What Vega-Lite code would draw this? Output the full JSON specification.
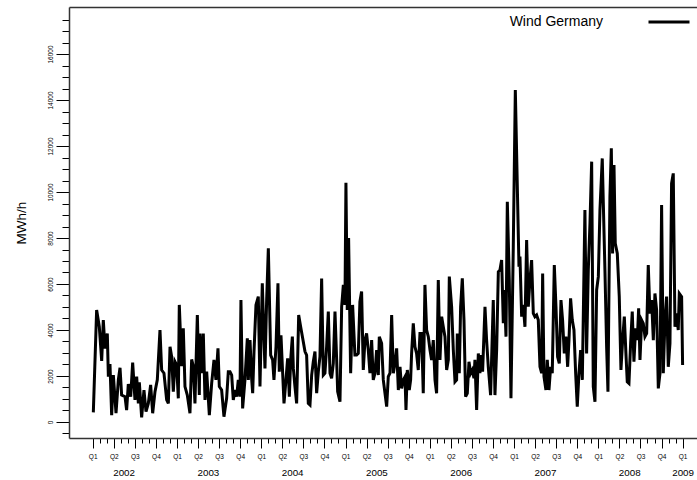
{
  "$schema": "https://vega.github.io/schema/vega-lite/v6.json",
  "width": 628,
  "height": 431,
  "autosize": {"type": "none"},
  "padding": {"left": 69, "top": 7, "right": 0, "bottom": 42},
  "background": "white",
  "config": {
    "view": {"stroke": null},
    "font": "Liberation Sans",
    "axis": {"labelFont": "Liberation Sans", "titleFont": "Liberation Sans", "grid": false},
    "legend": {"labelFont": "Liberation Sans"}
  },
  "data": {"values": [
    {"m":0.09,"v":420},{"m":0.56,"v":4870},{"m":0.94,"v":4140},{"m":1.28,"v":2660},{"m":1.51,"v":4430},{"m":1.75,"v":3200},{"m":2.08,"v":3850},{"m":2.23,"v":1970},{"m":2.46,"v":2520},{"m":2.70,"v":300},{"m":2.94,"v":2040},{"m":3.32,"v":380},{"m":3.65,"v":1830},{"m":3.89,"v":2360},{"m":4.12,"v":1170},{"m":4.60,"v":1100},{"m":4.83,"v":520},{"m":5.07,"v":1650},{"m":5.41,"v":1100},{"m":5.69,"v":2580},{"m":6.02,"v":960},{"m":6.26,"v":1970},{"m":6.50,"v":810},{"m":6.64,"v":1720},{"m":6.97,"v":200},{"m":7.30,"v":1390},{"m":7.59,"v":450},{"m":7.92,"v":810},{"m":8.25,"v":1610},{"m":8.54,"v":380},{"m":8.87,"v":1320},{"m":9.20,"v":1830},{"m":9.58,"v":4000},{"m":9.82,"v":2260},{"m":10.15,"v":2120},{"m":10.53,"v":960},{"m":10.77,"v":810},{"m":11.01,"v":3270},{"m":11.24,"v":2840},{"m":11.48,"v":1320},{"m":11.72,"v":2620},{"m":11.95,"v":2480},{"m":12.19,"v":1030},{"m":12.33,"v":5090},{"m":12.67,"v":2430},{"m":12.90,"v":4070},{"m":13.14,"v":1540},{"m":13.47,"v":1170},{"m":13.85,"v":380},{"m":14.09,"v":2720},{"m":14.33,"v":2410},{"m":14.56,"v":810},{"m":14.90,"v":4650},{"m":15.18,"v":1170},{"m":15.28,"v":3850},{"m":15.51,"v":2120},{"m":15.75,"v":3850},{"m":15.99,"v":960},{"m":16.23,"v":2190},{"m":16.61,"v":300},{"m":16.94,"v":1680},{"m":17.27,"v":2700},{"m":17.55,"v":1830},{"m":17.84,"v":3200},{"m":18.03,"v":1540},{"m":18.36,"v":1390},{"m":18.69,"v":230},{"m":19.07,"v":1030},{"m":19.31,"v":2190},{"m":19.55,"v":2190},{"m":19.79,"v":2040},{"m":20.02,"v":960},{"m":20.26,"v":1390},{"m":20.50,"v":1100},{"m":20.73,"v":1830},{"m":20.97,"v":1100},{"m":21.11,"v":5300},{"m":21.35,"v":590},{"m":21.68,"v":1830},{"m":22.02,"v":3640},{"m":22.16,"v":1830},{"m":22.40,"v":3560},{"m":22.63,"v":1900},{"m":22.78,"v":1250},{"m":22.97,"v":3060},{"m":23.25,"v":5090},{"m":23.58,"v":5450},{"m":23.82,"v":1540},{"m":24.15,"v":6030},{"m":24.53,"v":2330},{"m":24.77,"v":5300},{"m":25.01,"v":7550},{"m":25.34,"v":2910},{"m":25.62,"v":2700},{"m":25.81,"v":1830},{"m":26.10,"v":3270},{"m":26.38,"v":6030},{"m":26.57,"v":2190},{"m":26.81,"v":3770},{"m":27.05,"v":2120},{"m":27.24,"v":810},{"m":27.52,"v":1830},{"m":27.76,"v":2770},{"m":28.00,"v":1100},{"m":28.19,"v":2700},{"m":28.43,"v":3710},{"m":28.57,"v":2330},{"m":28.80,"v":1540},{"m":29.04,"v":810},{"m":29.33,"v":4650},{"m":29.61,"v":4140},{"m":29.90,"v":3640},{"m":30.23,"v":3060},{"m":30.46,"v":2910},{"m":30.70,"v":810},{"m":30.94,"v":740},{"m":31.18,"v":2040},{"m":31.41,"v":2620},{"m":31.65,"v":3060},{"m":31.89,"v":1250},{"m":32.13,"v":2190},{"m":32.36,"v":2840},{"m":32.60,"v":6240},{"m":32.84,"v":2040},{"m":33.07,"v":2120},{"m":33.31,"v":3270},{"m":33.55,"v":4800},{"m":33.79,"v":2120},{"m":34.02,"v":1900},{"m":34.26,"v":2550},{"m":34.50,"v":4800},{"m":34.74,"v":2700},{"m":34.88,"v":1320},{"m":35.21,"v":880},{"m":35.45,"v":5010},{"m":35.69,"v":5960},{"m":35.92,"v":5090},{"m":36.06,"v":10400},{"m":36.25,"v":4870},{"m":36.44,"v":8000},{"m":36.73,"v":2120},{"m":37.01,"v":5090},{"m":37.34,"v":2910},{"m":37.58,"v":2910},{"m":37.82,"v":2980},{"m":38.05,"v":5230},{"m":38.29,"v":5670},{"m":38.53,"v":2260},{"m":38.77,"v":3560},{"m":39.00,"v":3850},{"m":39.24,"v":3130},{"m":39.48,"v":2120},{"m":39.72,"v":3560},{"m":39.95,"v":1830},{"m":40.19,"v":2120},{"m":40.43,"v":3130},{"m":40.67,"v":2040},
    {"m":40.81,"v":3710},{"m":41.14,"v":3420},{"m":41.38,"v":1830},{"m":41.62,"v":1250},{"m":41.86,"v":670},{"m":42.09,"v":1970},{"m":42.33,"v":2120},{"m":42.57,"v":4650},{"m":42.81,"v":2120},{"m":43.04,"v":2550},{"m":43.28,"v":3200},{"m":43.52,"v":1390},{"m":43.76,"v":2400},{"m":43.99,"v":1460},{"m":44.23,"v":1830},{"m":44.47,"v":1970},{"m":44.61,"v":520},{"m":44.80,"v":2260},{"m":45.08,"v":1390},{"m":45.27,"v":1830},{"m":45.41,"v":2980},{"m":45.65,"v":4290},{"m":45.89,"v":3270},{"m":46.12,"v":2980},{"m":46.36,"v":2260},{"m":46.60,"v":3850},{"m":46.84,"v":3850},{"m":47.07,"v":1250},{"m":47.31,"v":5960},{"m":47.55,"v":4000},{"m":47.79,"v":3710},{"m":48.03,"v":3130},{"m":48.26,"v":2700},{"m":48.50,"v":3560},{"m":48.74,"v":1830},{"m":48.97,"v":1250},{"m":49.21,"v":6170},{"m":49.45,"v":2700},{"m":49.69,"v":4580},{"m":49.92,"v":4140},{"m":50.16,"v":3710},{"m":50.40,"v":2260},{"m":50.64,"v":2700},{"m":50.78,"v":6320},{"m":51.11,"v":5010},{"m":51.35,"v":3130},{"m":51.59,"v":1750},{"m":51.82,"v":1830},{"m":51.92,"v":3850},{"m":52.20,"v":2120},{"m":52.39,"v":5010},{"m":52.63,"v":6250},{"m":52.87,"v":4430},{"m":53.10,"v":1100},{"m":53.34,"v":1250},{"m":53.58,"v":2620},{"m":53.82,"v":2120},{"m":54.05,"v":2260},{"m":54.29,"v":1900},{"m":54.43,"v":2700},{"m":54.67,"v":520},{"m":54.91,"v":2980},{"m":55.14,"v":2120},{"m":55.29,"v":2910},{"m":55.52,"v":2190},{"m":55.86,"v":5010},{"m":56.09,"v":3560},{"m":56.33,"v":2400},{"m":56.66,"v":1170},{"m":57.04,"v":5300},{"m":57.28,"v":1170},{"m":57.52,"v":3130},{"m":57.76,"v":6530},{"m":57.99,"v":6610},{"m":58.23,"v":7040},{"m":58.47,"v":4290},{"m":58.61,"v":5740},{"m":58.85,"v":3710},{"m":59.04,"v":9580},{"m":59.32,"v":6170},{"m":59.56,"v":1030},{"m":59.89,"v":7620},{"m":60.18,"v":14430},{"m":60.70,"v":6750},{"m":60.84,"v":7190},{"m":61.08,"v":4580},{"m":61.31,"v":5090},{"m":61.55,"v":4140},{"m":61.79,"v":7910},{"m":62.03,"v":5010},{"m":62.26,"v":6170},{"m":62.50,"v":7040},{"m":62.74,"v":4720},{"m":62.97,"v":4580},{"m":63.21,"v":4650},{"m":63.45,"v":4430},{"m":63.69,"v":2400},{"m":63.93,"v":2120},{"m":64.07,"v":6460},{"m":64.26,"v":1970},{"m":64.54,"v":1390},{"m":64.73,"v":2700},{"m":64.97,"v":1390},{"m":65.21,"v":2400},{"m":65.44,"v":2120},{"m":65.73,"v":6820},{"m":65.97,"v":5010},{"m":66.20,"v":2840},{"m":66.44,"v":2550},{"m":66.68,"v":5300},{"m":66.91,"v":4430},{"m":67.15,"v":2980},{"m":67.39,"v":3710},{"m":67.63,"v":2400},{"m":67.82,"v":3560},{"m":68.05,"v":5380},{"m":68.29,"v":4430},{"m":68.53,"v":4000},{"m":68.77,"v":2120},{"m":69.00,"v":670},{"m":69.24,"v":2120},{"m":69.48,"v":3130},{"m":69.72,"v":1830},{"m":70.09,"v":9220},{"m":70.33,"v":2980},{"m":70.57,"v":6610},{"m":70.81,"v":8640},{"m":71.05,"v":11320},{"m":71.28,"v":1540},{"m":71.52,"v":880},{"m":71.76,"v":5740},{"m":72.00,"v":6320},{"m":72.23,"v":9220},{"m":72.56,"v":11460},{"m":72.71,"v":9510},{"m":72.94,"v":6610},{"m":73.18,"v":3270},{"m":73.37,"v":1320},{"m":73.65,"v":9800},{"m":73.85,"v":11900},{"m":74.03,"v":7330},{"m":74.23,"v":11170},{"m":74.41,"v":7770},{"m":74.70,"v":7330},{"m":74.98,"v":5450},{"m":75.22,"v":2260},{"m":75.46,"v":3560},{"m":75.70,"v":4580},{"m":75.93,"v":2980},{"m":76.12,"v":1750},{"m":76.36,"v":1680},{"m":76.60,"v":3420},{"m":76.83,"v":4800},{"m":77.07,"v":2620},{"m":77.31,"v":4070},{"m":77.55,"v":3560},{"m":77.74,"v":4940},{"m":77.93,"v":2700},{"m":78.17,"v":4430},{"m":78.40,"v":4290},{"m":78.64,"v":3710},{"m":78.88,"v":3850},{"m":79.11,"v":6820},{"m":79.35,"v":4720},{"m":79.59,"v":5300},{"m":79.83,"v":3560},{"m":80.06,"v":5590},{"m":80.30,"v":4870},{"m":80.54,"v":1460},{"m":80.78,"v":2120},{"m":81.01,"v":9430},{"m":81.25,"v":2120},{"m":81.49,"v":4430},{"m":81.72,"v":5450},{"m":81.96,"v":2400},{"m":82.20,"v":3420},{"m":82.43,"v":10370},{"m":82.67,"v":10810},{"m":82.91,"v":4140},{"m":83.14,"v":4720},{"m":83.38,"v":4000},{"m":83.53,"v":5590},{"m":83.86,"v":5450},{"m":84.00,"v":2480}
  ]},
  "resolve": {"axis": {"x": "independent"}},
  "layer": [
    {
      "mark": {"type": "line", "strokeWidth": 3, "strokeJoin": "miter"},
      "encoding": {
        "x": {
          "field": "m", "type": "quantitative",
          "scale": {"domain": [-3.375, 86.05], "nice": false, "zero": false},
          "axis": {
            "orient": "bottom", "title": null, "tickCount": 1000,
            "values": [0,1,2,3,4,5,6,7,8,9,10,11,12,13,14,15,16,17,18,19,20,21,22,23,24,25,26,27,28,29,30,31,32,33,34,35,36,37,38,39,40,41,42,43,44,45,46,47,48,49,50,51,52,53,54,55,56,57,58,59,60,61,62,63,64,65,66,67,68,69,70,71,72,73,74,75,76,77,78,79,80,81,82,83,84],
            "labelExpr": "datum.value % 3 === 0 ? 'Q' + ((datum.value / 3) % 4 + 1) : ''",
            "tickSize": {"condition": {"test": "datum.value % 3 === 0", "value": 10}, "value": 5},
            "tickColor": "#000", "tickWidth": 1,
            "domainColor": "#333", "domainWidth": 1.5,
            "labelFontSize": 6.5, "labelColor": "#000", "labelPadding": 5,
            "labelFlush": false, "labelOverlap": false
          }
        },
        "y": {
          "field": "v", "type": "quantitative", "title": "MWh/h",
          "scale": {"domain": [-696, 18044], "nice": false, "zero": false},
          "axis": {
            "tickCount": 1000,
            "values": [-500,0,500,1000,1500,2000,2500,3000,3500,4000,4500,5000,5500,6000,6500,7000,7500,8000,8500,9000,9500,10000,10500,11000,11500,12000,12500,13000,13500,14000,14500,15000,15500,16000,16500,17000,17500],
            "labelExpr": "datum.value >= 0 && datum.value % 2000 === 0 ? '' + datum.value : ''",
            "tickSize": {"condition": {"test": "datum.value % 2000 === 0", "value": 13}, "value": 7},
            "tickColor": "#000", "tickWidth": 1,
            "domainColor": "#333", "domainWidth": 1.5,
            "labelAngle": 270, "labelAlign": "center", "labelBaseline": "bottom",
            "labelFontSize": 6.5, "labelColor": "#000", "labelPadding": 3,
            "labelFlush": false, "labelOverlap": false,
            "titleFontSize": 13.5, "titleFontWeight": "normal", "titleColor": "#000", "titlePadding": 19
          }
        },
        "color": {
          "datum": "Wind Germany",
          "scale": {"range": ["#000000"]},
          "legend": {
            "title": null, "orient": "none", "legendX": 578, "legendY": -7,
            "symbolType": "stroke", "symbolStrokeWidth": 3, "symbolSize": 1681,
            "symbolStrokeColor": "#000",
            "labelFontSize": 14, "labelColor": "#000", "labelAlign": "right", "labelOffset": -88,
            "padding": 0, "labelLimit": 300
          }
        }
      }
    },
    {
      "mark": {"type": "line", "strokeOpacity": 0},
      "encoding": {
        "x": {
          "field": "m", "type": "quantitative",
          "axis": {
            "orient": "bottom", "title": null, "tickCount": 100,
            "values": [4.4, 16.4, 28.4, 40.4, 52.4, 64.4, 76.4, 84],
            "labelExpr": "'' + (2002 + floor(datum.value / 12))",
            "ticks": false, "domain": false,
            "labelFontSize": 9.8, "labelColor": "#000", "labelPadding": 29,
            "labelFlush": false, "labelOverlap": false
          }
        },
        "y": {"field": "v", "type": "quantitative", "title": "MWh/h"}
      }
    },
    {
      "mark": {"type": "line", "strokeOpacity": 0},
      "encoding": {
        "x": {
          "field": "m", "type": "quantitative",
          "axis": {
            "orient": "top", "title": null, "labels": false, "ticks": false,
            "domainColor": "#333", "domainWidth": 1.5
          }
        },
        "y": {"field": "v", "type": "quantitative", "title": "MWh/h"}
      }
    }
  ]
}
